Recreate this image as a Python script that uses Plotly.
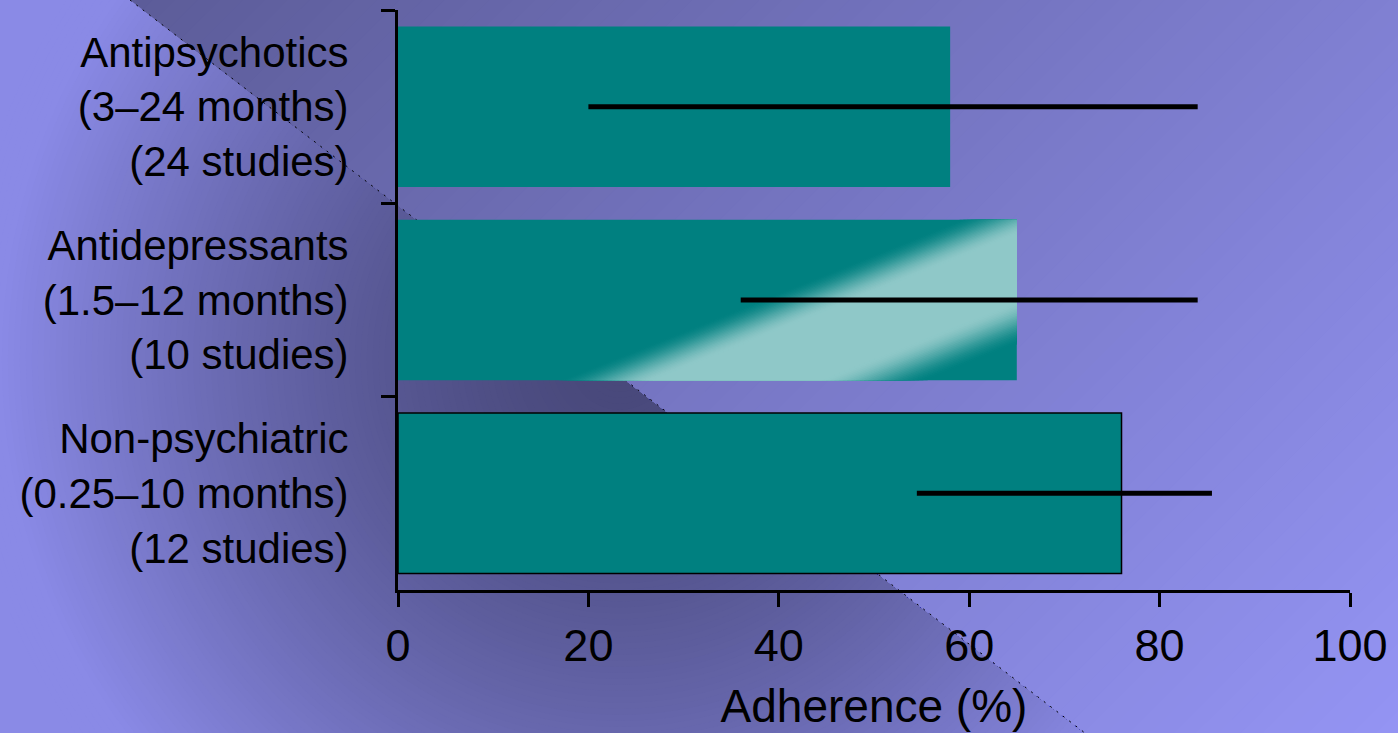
import numpy as np
import plotly.graph_objects as go

# ---------------- data ----------------
categories = [
    "Antipsychotics<br>(3–24 months)<br>(24 studies)",
    "Antidepressants<br>(1.5–12 months)<br>(10 studies)",
    "Non-psychiatric<br>(0.25–10 months)<br>(12 studies)",
]
adherence = [58, 65, 76]          # bar value (%)
range_low = [20, 36, 54.5]        # lower end of reported range (%)
range_high = [84, 84, 85.5]       # upper end of reported range (%)
x_ticks = [0, 20, 40, 60, 80, 100]
x_title = "Adherence (%)"

# ---------------- layout constants ----------------
W, H = 1398, 733
PL, PR, PT, PB = 398, 1350, 10, 590          # plot area in pixels
X_RANGE = (0, 100)
Y_RANGE = (-0.5, 2.5)                         # top -> bottom
BAR_WIDTH = 0.83
FONT = "Liberation Sans, Arial, Helvetica, sans-serif"


def d2px(v, c):
    x = PL + (v - X_RANGE[0]) / (X_RANGE[1] - X_RANGE[0]) * (PR - PL)
    y = PT + (c - Y_RANGE[0]) / (Y_RANGE[1] - Y_RANGE[0]) * (PB - PT)
    return x, y


def px2d(x, y):
    v = X_RANGE[0] + (x - PL) / (PR - PL) * (X_RANGE[1] - X_RANGE[0])
    c = Y_RANGE[0] + (y - PT) / (PB - PT) * (Y_RANGE[1] - Y_RANGE[0])
    return v, c


def clip(poly, f):
    out = []
    n = len(poly)
    for i in range(n):
        p, q = poly[i], poly[(i + 1) % n]
        fp, fq = f(p), f(q)
        if fp >= 0:
            out.append(p)
        if (fp >= 0) != (fq >= 0):
            t = fp / (fp - fq)
            out.append((p[0] + t * (q[0] - p[0]), p[1] + t * (q[1] - p[1])))
    return out


def rgb(r, g, b):
    return f"rgb({int(round(r))},{int(round(g))},{int(round(b))})"


def to_path(poly):
    return "M " + " L ".join(f"{x / W:.5f},{1 - y / H:.5f}" for x, y in poly) + " Z"


# ---------------- background decoration ----------------
shapes = []
# left part: darker shading around the middle of the slide
CX, CY = 620, 360
for r in np.linspace(660, 8, 110):
    R = min(138, 72 + 0.00424 * r ** 1.5)
    B = 122 + (R - 72) * 1.64
    shapes.append(dict(type="circle", xref="paper", yref="paper",
                       x0=(CX - r) / W, x1=(CX + r) / W,
                       y0=1 - (CY + r) / H, y1=1 - (CY - r) / H,
                       fillcolor=rgb(R, R, B), line=dict(width=0), layer="below"))

# right part: diagonal gradient, dark top-left to light bottom-right
DX0, DX1 = 130, 1085
right_poly = [(DX0, 0), (W, 0), (W, H), (DX1, H)]
c_levels = np.linspace(DX0, W + H, 90)
step = c_levels[1] - c_levels[0]
for c in c_levels[:-1]:
    poly = clip(right_poly, lambda p, c=c: p[0] + p[1] - c)
    if len(poly) < 3:
        continue
    t = (c + step / 2 - DX0) / (W + H - DX0)
    R = 92 + 56 * t
    B = 152 + 92 * t
    shapes.append(dict(type="path", xref="paper", yref="paper", path=to_path(poly),
                       fillcolor=rgb(R, R, B), line=dict(width=0), layer="below"))

# dotted edge of the diagonal
shapes.append(dict(type="line", xref="paper", yref="paper",
                   x0=DX0 / W, y0=1, x1=DX1 / W, y1=0,
                   line=dict(color="black", width=1, dash="2px,6px"), layer="below"))

fig = go.Figure()

# ---------------- bars ----------------
fig.add_trace(go.Bar(
    x=adherence, y=categories, orientation="h", width=BAR_WIDTH,
    marker=dict(color="#008080", line=dict(color="black", width=[0, 0, 1.5])),
    hoverinfo="x+y", showlegend=False,
))

# ---------------- sheen on the middle bar ----------------
hi_idx = 1
xe, yc = d2px(adherence[hi_idx], hi_idx)
xs, _ = d2px(0, hi_idx)
half = BAR_WIDTH / 2 * (PB - PT) / (Y_RANGE[1] - Y_RANGE[0])
rect = [(xs, yc - half), (xe, yc - half), (xe, yc + half), (xs, yc + half)]
KS = 0.4
S_UP0, S_UP1, S_DN1, S_DN0 = 603, 642, 708, 752
teal = np.array([0, 128, 128])
light = np.array([143, 200, 200])
NL = 26
for k in range(1, NL + 1):
    t = k / NL
    lo = S_UP0 + (S_UP1 - S_UP0) * (t - 0.5 / NL)
    hi = S_DN0 - (S_DN0 - S_DN1) * (t - 0.5 / NL)
    poly = clip(rect, lambda p, lo=lo: p[1] + KS * p[0] - lo)
    poly = clip(poly, lambda p, hi=hi: hi - (p[1] + KS * p[0]))
    if len(poly) < 3:
        continue
    sm = t * t * (3 - 2 * t)
    col = teal + (light - teal) * sm
    pts = [px2d(x, y) for x, y in poly]
    pts.append(pts[0])
    fig.add_trace(go.Scatter(
        x=[p[0] for p in pts], y=[p[1] for p in pts], yaxis="y2",
        mode="lines", fill="toself", fillcolor=rgb(*col),
        line=dict(width=0), hoverinfo="skip", showlegend=False,
    ))

# ---------------- range lines ----------------
lx, ly = [], []
for i in range(len(categories)):
    lx += [range_low[i], range_high[i], None]
    ly += [i, i, None]
fig.add_trace(go.Scatter(
    x=lx, y=ly, yaxis="y2", mode="lines",
    line=dict(color="black", width=5), hoverinfo="skip", showlegend=False,
))

fig.update_layout(
    width=W, height=H, autosize=False,
    margin=dict(l=0, r=0, t=0, b=0, pad=0, autoexpand=False),
    paper_bgcolor="#8a8ae6",
    plot_bgcolor="rgba(0,0,0,0)",
    font=dict(family=FONT, color="black"),
    shapes=shapes,
    showlegend=False,
    xaxis=dict(
        domain=[PL / W, PR / W], range=list(X_RANGE), anchor="y", automargin=False,
        tickmode="array", tickvals=x_ticks, ticktext=[str(v) for v in x_ticks],
        ticks="outside", ticklen=14, tickwidth=3, tickcolor="black",
        showline=True, linewidth=3, linecolor="black",
        showgrid=False, zeroline=False,
        tickfont=dict(size=45, family=FONT, color="black"),
        ticklabelstandoff=0,
        title=dict(text=x_title, font=dict(size=46, family=FONT, color="black"), standoff=20),
    ),
    yaxis=dict(
        domain=[1 - PB / H, 1 - PT / H], type="category", anchor="x", automargin=False,
        range=[Y_RANGE[1], Y_RANGE[0]],
        tickson="boundaries", ticks="outside", ticklen=14, tickwidth=3, tickcolor="black",
        showline=True, linewidth=3, linecolor="black",
        showgrid=False, zeroline=False,
        tickfont=dict(size=42, family=FONT, color="black"),
        ticklabelstandoff=38,
    ),
    yaxis2=dict(
        overlaying="y", anchor="x", range=[Y_RANGE[1], Y_RANGE[0]],
        visible=False, showgrid=False, zeroline=False, automargin=False,
    ),
)

fig.write_html(
    "out.html",
    config={"responsive": False, "displayModeBar": False},
    post_script="document.body.style.margin='0';document.body.style.overflow='hidden';",
)
